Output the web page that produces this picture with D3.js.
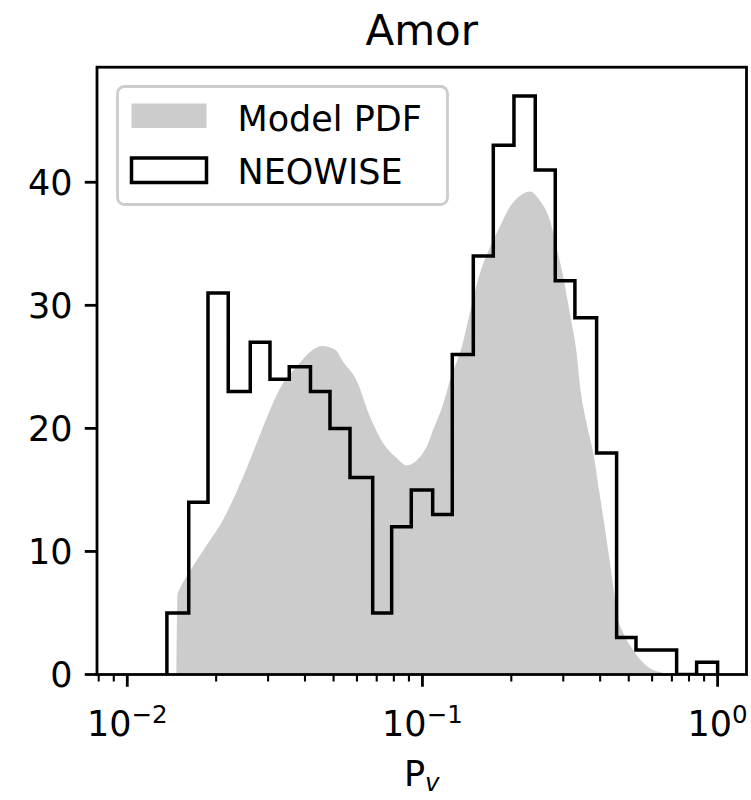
<!DOCTYPE html>
<html>
<head>
<meta charset="utf-8">
<script src="https://cdn.jsdelivr.net/npm/d3@7"></script>
<style>
  body { margin: 0; background: #fff; }
  svg { display: block; }
  text { font-family: "DejaVu Sans", sans-serif; fill: #000; }
</style>
</head>
<body>
<svg id="chart" width="751" height="800"></svg>
<script>
// NEOWISE histogram (log-spaced bins)
const binEdges = [0.01362, 0.01615, 0.01877, 0.02198, 0.02610, 0.03044, 0.03538, 0.04175,
  0.04861, 0.05683, 0.06783, 0.07865, 0.09165, 0.1083, 0.1262, 0.1487, 0.1738, 0.2042,
  0.2411, 0.2818, 0.3285, 0.3891, 0.4548, 0.5290, 0.6199, 0.7264, 0.8490, 1.0];
const neowiseCounts = [5, 14, 31, 23, 27, 24, 25, 23, 20, 16, 5, 12, 15, 13, 26, 34, 43, 47,
  41, 32, 29, 18, 3, 2, 2, 0, 1];

// model PDF curve (scaled to counts)
const pdfPv = [0.01468, 0.01480, 0.01509, 0.01631, 0.01810, 0.02114, 0.02472, 0.02743,
  0.03044, 0.03377, 0.03749, 0.04158, 0.04556, 0.05053, 0.05390, 0.05984, 0.06642, 0.07366,
  0.08177, 0.08842, 0.09558, 0.1033, 0.1088, 0.1176, 0.1239, 0.1358, 0.1468, 0.1566, 0.1693,
  0.1831, 0.1979, 0.2140, 0.2313, 0.2501, 0.2704, 0.2848, 0.2999, 0.3160, 0.3330, 0.3416,
  0.3600, 0.3791, 0.3994, 0.4207, 0.4428, 0.4548, 0.4788, 0.5176, 0.5597, 0.6214, 0.7453];
const pdfVal = [0, 6.5, 7.0, 8.4, 10.1, 12.6, 16.1, 18.8, 21.5, 23.7, 25.0, 26.2, 26.7, 26.4,
  25.4, 23.9, 20.95, 18.8, 17.6, 17.0, 17.4, 18.5, 19.9, 22.0, 23.9, 26.6, 30.0, 32.6, 34.7,
  36.4, 38.0, 38.9, 39.25, 38.5, 36.9, 34.7, 32.3, 29.3, 26.1, 23.5, 20.4, 18.0, 14.5, 10.95,
  7.2, 5.0, 3.4, 2.0, 0.95, 0.27, 0];

const yTicks = [0, 10, 20, 30, 40];
const xMajor = [-2, -1, 0];
const legendItems = ["Model PDF", "NEOWISE"];

const svg = d3.select("#chart");
const plotL = 97, plotR = 746.5, plotT = 67.2, plotB = 674.5;

const x = d3.scaleLog()
  .domain([Math.pow(10, -2.1026), Math.pow(10, 0.0979)])
  .range([plotL, plotR]);
const y = d3.scaleLinear()
  .domain([0, 49.35])
  .range([plotB, plotT]);

svg.append("clipPath").attr("id", "plotclip")
  .append("rect")
    .attr("x", plotL).attr("y", plotT)
    .attr("width", plotR - plotL).attr("height", plotB - plotT);

// model pdf fill
const area = d3.area()
  .x(function(d){ return x(d[0]) })
  .y0(y(0))
  .y1(function(d){ return y(d[1]) })
  .curve(d3.curveMonotoneX);

svg.append("path")
  .datum(d3.zip(pdfPv, pdfVal))
  .attr("clip-path", "url(#plotclip)")
  .attr("fill", "#cccccc")
  .attr("d", area);

// neowise step outline
let stepPts = [[binEdges[0], 0]];
neowiseCounts.forEach(function(c, i){
  stepPts.push([binEdges[i], c]);
  stepPts.push([binEdges[i + 1], c]);
});
stepPts.push([binEdges[binEdges.length - 1], 0]);

svg.append("path")
  .datum(stepPts)
  .attr("clip-path", "url(#plotclip)")
  .attr("fill", "none")
  .attr("stroke", "#000")
  .attr("stroke-width", 3.5)
  .attr("stroke-linejoin", "miter")
  .attr("d", d3.line()
    .x(function(d){ return x(d[0]) })
    .y(function(d){ return y(d[1]) }));

// y axis
const yAxis = svg.append("g").attr("transform", "translate(" + plotL + ",0)");
yAxis.selectAll("line")
  .data(yTicks).enter()
  .append("line")
    .attr("x1", -12.25).attr("x2", 0)
    .attr("y1", function(d){ return y(d) })
    .attr("y2", function(d){ return y(d) })
    .attr("stroke", "#000").attr("stroke-width", 2.8);
yAxis.selectAll("text")
  .data(yTicks).enter()
  .append("text")
    .attr("x", -24.5)
    .attr("y", function(d){ return y(d) })
    .attr("dy", "0.36em")
    .attr("text-anchor", "end")
    .style("font-size", "35px")
    .text(function(d){ return d });

// x axis ticks
let minorTicks = [];
[-3, -2, -1, 0].forEach(function(e){
  for (let k = 2; k <= 9; k++) {
    const v = k * Math.pow(10, e);
    if (v > x.domain()[0] && v < x.domain()[1]) minorTicks.push(v);
  }
});
const xAxis = svg.append("g").attr("transform", "translate(0," + plotB + ")");
xAxis.selectAll("line.minor")
  .data(minorTicks).enter()
  .append("line")
    .attr("class", "minor")
    .attr("x1", function(d){ return x(d) })
    .attr("x2", function(d){ return x(d) })
    .attr("y1", 0).attr("y2", 7)
    .attr("stroke", "#000").attr("stroke-width", 2.1);
xAxis.selectAll("line.major")
  .data(xMajor).enter()
  .append("line")
    .attr("class", "major")
    .attr("x1", function(d){ return x(Math.pow(10, d)) })
    .attr("x2", function(d){ return x(Math.pow(10, d)) })
    .attr("y1", 0).attr("y2", 12.25)
    .attr("stroke", "#000").attr("stroke-width", 2.8);

const xLabels = xAxis.selectAll("text")
  .data(xMajor).enter()
  .append("text")
    .attr("x", function(d){ return x(Math.pow(10, d)) })
    .attr("y", 61.5)
    .attr("text-anchor", "middle")
    .style("font-size", "35px");
xLabels.append("tspan").text("10");
xLabels.append("tspan")
  .attr("dy", -13)
  .style("font-size", "24.5px")
  .text(function(d){ return d < 0 ? "\u2212" + (-d) : String(d) });

// frame
svg.append("rect")
  .attr("x", plotL).attr("y", plotT)
  .attr("width", plotR - plotL).attr("height", plotB - plotT)
  .attr("fill", "none")
  .attr("stroke", "#000").attr("stroke-width", 2.8);

// title and axis label
svg.append("text")
  .attr("x", (plotL + plotR) / 2).attr("y", 45)
  .attr("text-anchor", "middle")
  .style("font-size", "42px")
  .text("Amor");

const xl = svg.append("text")
  .attr("x", (plotL + plotR) / 2).attr("y", 786)
  .attr("text-anchor", "middle")
  .style("font-size", "35px");
xl.append("tspan").text("P");
xl.append("tspan")
  .attr("dy", 5)
  .style("font-size", "24.5px")
  .style("font-style", "italic")
  .text("v");

// legend
const legend = svg.append("g");
legend.append("rect")
  .attr("x", 117.5).attr("y", 86.5)
  .attr("width", 330).attr("height", 118)
  .attr("rx", 7).attr("ry", 7)
  .attr("fill", "#fff").attr("fill-opacity", 0.8)
  .attr("stroke", "#cccccc").attr("stroke-width", 2.8);

legend.selectAll("rect.patch")
  .data(legendItems).enter()
  .append("rect")
    .attr("class", "patch")
    .attr("x", 131.5)
    .attr("y", function(d, i){ return 103.5 + i * 54.5 })
    .attr("width", 75)
    .attr("height", 24.5)
    .attr("fill", function(d, i){ return i == 0 ? "#cccccc" : "none" })
    .attr("stroke", function(d, i){ return i == 0 ? "none" : "#000" })
    .attr("stroke-width", 3.5);

legend.selectAll("text")
  .data(legendItems).enter()
  .append("text")
    .attr("x", 237.5)
    .attr("y", function(d, i){ return 130.5 + i * 53.5 })
    .style("font-size", "35px")
    .text(function(d){ return d });
</script>
</body>
</html>
